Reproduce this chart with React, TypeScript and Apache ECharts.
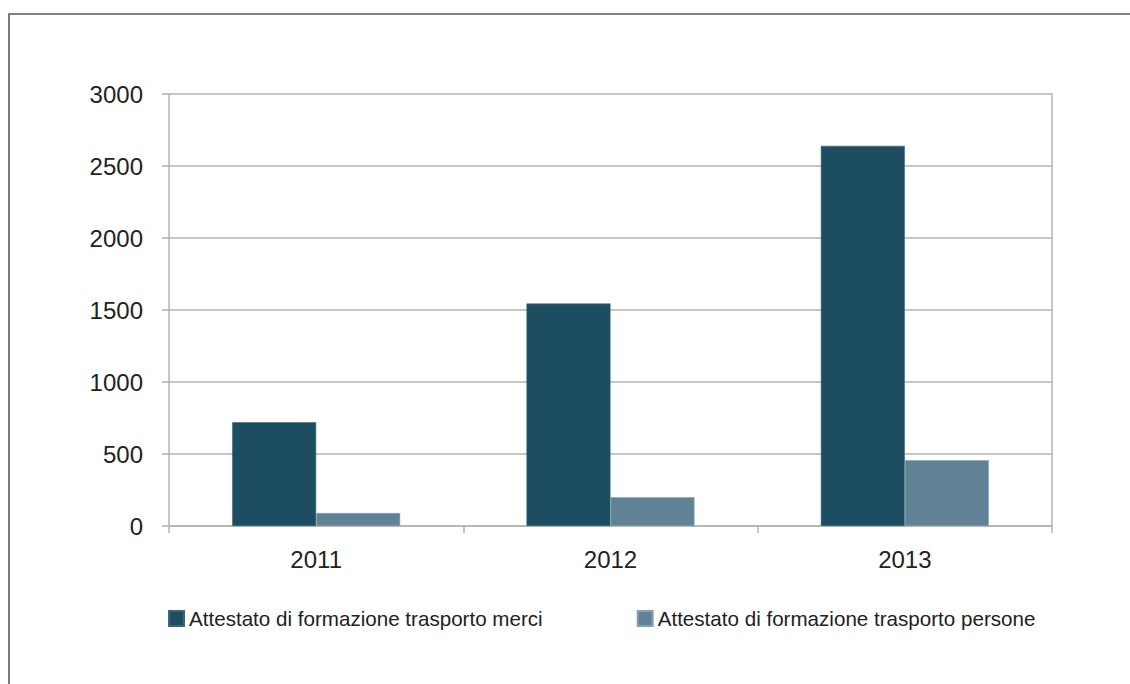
import React, { useEffect, useRef } from "react";
import * as echarts from "echarts";

const categories = ["2011", "2012", "2013"];
const seriesNames = [
  "Attestato di formazione trasporto merci",
  "Attestato di formazione trasporto persone",
];
const merci = [720, 1545, 2640];
const persone = [90, 200, 457];
const yTicks = { min: 0, max: 3000, interval: 500 };

export default function App() {
  const ref = useRef<HTMLDivElement>(null);
  useEffect(() => {
    if (!ref.current) return;
    const chart = echarts.init(ref.current, undefined, { renderer: "svg" });
    const font = "'Liberation Sans', Helvetica, Arial, sans-serif";
    const gridColor = "#b3b3b3";
    chart.setOption({
      animation: false,
      backgroundColor: "#ffffff",
      textStyle: { fontFamily: font },
      graphic: [
        {
          type: "rect",
          shape: { x: 9, y: 14, width: 1140, height: 700 },
          style: { fill: "none", stroke: "#5a5a5a", lineWidth: 1.6 },
          silent: true,
          z: 0,
        },
      ],
      grid: { left: 169, right: 78, top: 94, bottom: 158 },
      legend: {
        top: 603,
        left: 163,
        itemWidth: 15,
        itemHeight: 15,
        itemGap: 94,
        icon: "rect",
        textStyle: { fontSize: 20.6, color: "#222", fontFamily: font },
        data: seriesNames,
      },
      xAxis: {
        type: "category",
        data: categories,
        axisLine: { show: true, lineStyle: { color: gridColor, width: 1.5 } },
        axisTick: { show: true, length: 7, lineStyle: { color: gridColor, width: 1.5 } },
        axisLabel: { fontSize: 24, color: "#222", margin: 21 },
        splitLine: { show: false },
      },
      yAxis: [
        {
          type: "value",
          min: yTicks.min,
          max: yTicks.max,
          interval: yTicks.interval,
          axisLine: { show: true, lineStyle: { color: gridColor, width: 1.5 } },
          axisTick: { show: true, length: 7, lineStyle: { color: gridColor, width: 1.5 } },
          axisLabel: { fontSize: 24, color: "#222", margin: 26, formatter: (v: number) => String(v) },
          splitLine: { show: true, lineStyle: { color: gridColor, width: 1.5 } },
        },
        {
          type: "value",
          position: "right",
          min: yTicks.min,
          max: yTicks.max,
          interval: yTicks.interval,
          axisLine: { show: true, lineStyle: { color: gridColor, width: 1.5 } },
          axisTick: { show: false },
          axisLabel: { show: false },
          splitLine: { show: false },
        },
      ],
      series: [
        {
          name: seriesNames[0],
          type: "bar",
          data: merci,
          barWidth: 84,
          barGap: "0%",
          itemStyle: { color: "#1c4d60", borderColor: "#3d6676", borderWidth: 0.6 },
        },
        {
          name: seriesNames[1],
          type: "bar",
          data: persone,
          barWidth: 84,
          barGap: "0%",
          itemStyle: { color: "#5f8395", borderColor: "#86a2b0", borderWidth: 0.6 },
        },
      ],
    });
    return () => chart.dispose();
  }, []);
  return (
    <div
      ref={ref}
      style={{ position: "absolute", left: 0, top: 0, width: 1130, height: 684 }}
    />
  );
}
